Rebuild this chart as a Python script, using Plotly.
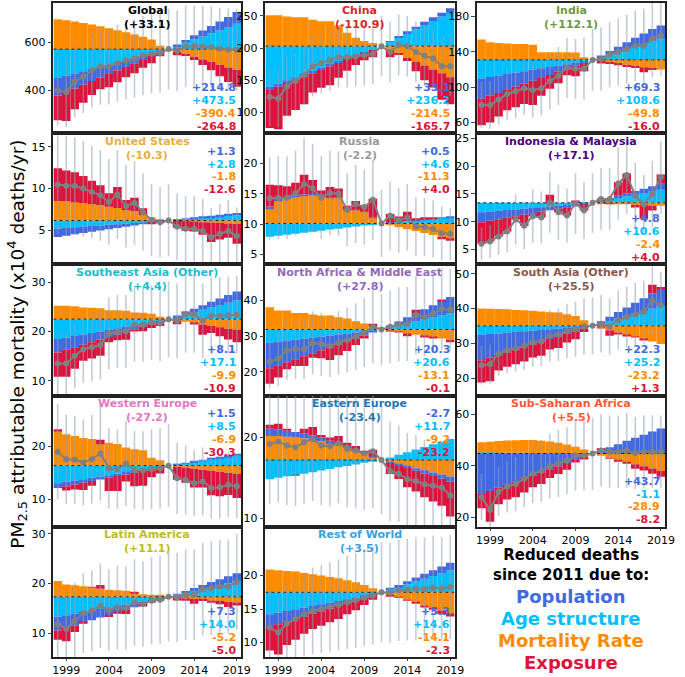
import plotly.graph_objects as go

W, H = 685, 677
YEARS = list(range(1998, 2020))

C_POP, C_AGE, C_MORT, C_EXP = "#4169E1", "#00BFFF", "#FF8C00", "#DC143C"

# ---------------- data (x10^4 deaths/yr) ----------------
GLOBAL_BASE = 572
GLOBAL_POP = [-73,-67,-62,-56,-50,-45,-39,-34,-28,-22,-17,-11,-6,0,6,12,18,24,30,36,42,48]
GLOBAL_AGE = [-120,-111,-102,-92,-83,-74,-65,-55,-46,-37,-28,-18,-9,0,13,26,40,53,66,79,92,106]
GLOBAL_MORT = [124,120,115,109,102,95,87,79,70,61,51,40,14,0,-11,-22,-32,-43,-54,-65,-76,-87]
GLOBAL_EXP = [-103,-121,-86,-75,-58,-48,-55,-49,-43,-41,-33,-30,-15,0,-15,-5,-13,-23,-34,-48,-61,-70]
GLOBAL_TOT = [400,393,437,458,483,500,500,513,525,533,545,553,556,572,565,584,584,583,580,574,570,569]
GLOBAL_ERR = [145,145,150,152,155,158,158,160,162,163,165,166,166,168,168,170,170,170,170,170,170,170]

CHINA_BASE = 203
CHINA_POP = [-5,-5,-4,-4,-3,-3,-3,-2,-2,-1,-1,-1,0,0,1,2,3,4,5,6,6,7]
CHINA_AGE = [-63,-58,-53,-48,-44,-39,-34,-29,-24,-19,-15,-10,-5,0,7,13,20,26,33,39,46,52]
CHINA_MORT = [48,48,46,45,45,41,38.5,38.5,32,21,13,8,5,0,-6,-12,-18,-24,-30,-36,-42,-48]
CHINA_EXP = [-59,-66,-51,-47,-43,-30,-27.5,-29.5,-23,-18,-13,-11,-12,0,-11,-1,-5,-15,-23,-28,-41,-42]
CHINA_TOT = [124,122,141,149,158,172,177,181,186,186,187,189,191,203,194,205,203,194,188,184,172,172]
CHINA_ERR = [45,45,46,46,46,47,47,47,47,47,47,47,47,47,47,47,47,47,47,47,46,46]

INDIA_BASE = 131
INDIA_POP = [-23,-21,-19.5,-18,-16,-14,-12.5,-11,-9,-7,-5.5,-3.5,-2,0,2,4,6,8,10,12,14,15]
INDIA_AGE = [-21,-19.5,-18,-16,-14.5,-13,-11,-9.5,-8,-6.5,-5,-3,-1.5,0,3,6,9,12,15,18,21,24]
INDIA_MORT = [23,20,19,18.5,18,18,17,8.6,8.6,8.6,8.6,8.5,3,0,-1.4,-2.8,-4,-5.5,-7,-8.3,-9.7,-11]
INDIA_EXP = [-30,-30.5,-26.5,-23,-23,-23,-27.5,-20,-15.6,-13,-7,-12,-9.5,0,-2.6,-1.2,-2,-2.5,-2,-5.7,-1.3,0]
INDIA_TOT = [80,80,86,92.5,95.5,99,97,99,107,113,122,121,121,131,132,137,140,143,147,147,155,159]
INDIA_ERR = [26,27,28,29,30,30,31,31,32,33,34,34,35,35,36,37,38,39,40,42,44,46]

US_BASE = 6.2
US_POP = [-1.0,-0.92,-0.85,-0.77,-0.69,-0.62,-0.54,-0.46,-0.38,-0.31,-0.23,-0.15,-0.08,0,0.04,0.07,0.11,0.14,0.18,0.22,0.25,0.29]
US_AGE = [-0.95,-0.88,-0.8,-0.73,-0.66,-0.58,-0.51,-0.44,-0.37,-0.29,-0.22,-0.15,-0.07,0,0.08,0.16,0.23,0.31,0.39,0.47,0.55,0.62]
US_MORT = [2.33,2.3,2.15,2.05,1.95,1.85,1.65,1.5,1.25,1.1,0.65,0.38,0.12,0,-0.05,-0.1,-0.15,-0.2,-0.25,-0.3,-0.35,-0.4]
US_EXP = [3.89,3.65,3.6,3.25,2.8,2.35,1.6,2.5,1.2,1.6,0.8,-0.03,-0.17,0,-0.81,-1.11,-1.17,-1.5,-2.32,-1.96,-1.7,-2.36]
US_TOT = [10.47,10.35,10.3,10.0,9.6,9.2,8.4,9.3,7.9,8.3,7.2,6.25,6.0,6.2,5.46,5.22,5.22,4.95,4.2,4.63,4.95,4.35]
US_ERR = [5.9,5.9,5.8,5.7,5.5,5.4,5.1,5.3,4.9,5.0,4.6,4.3,4.2,4.3,4.0,3.9,3.9,3.8,3.5,3.6,3.7,3.4]

RUSSIA_BASE = 10.1
RUSSIA_POP = [0.3,0.28,0.25,0.23,0.21,0.18,0.16,0.14,0.12,0.09,0.07,0.05,0.02,0,0.01,0.03,0.04,0.06,0.07,0.08,0.1,0.11]
RUSSIA_AGE = [-2.2,-2.03,-1.86,-1.69,-1.52,-1.35,-1.18,-1.01,-0.85,-0.68,-0.51,-0.34,-0.17,0,0.13,0.26,0.38,0.51,0.64,0.77,0.9,1.02]
RUSSIA_MORT = [2.5,3.8,4.0,4.4,4.6,4.7,4.6,4.2,4.2,2.2,2.2,1.9,1.0,0,-0.31,-0.63,-0.94,-1.26,-1.57,-1.88,-2.2,-2.51]
RUSSIA_EXP = [3.55,2.2,1.86,2.06,3.21,2.27,0.67,1.67,1.43,0.64,1.44,1.09,3.05,0,1.42,0.84,1.52,0.19,0.26,0.13,-0.4,-0.32]
RUSSIA_TOT = [14.25,14.35,14.35,15.1,16.6,15.9,14.35,15.1,15.0,12.35,13.3,12.8,14.0,10.1,11.35,10.6,11.1,9.6,9.5,9.2,8.5,8.4]
RUSSIA_ERR = [6.8,6.8,6.8,7.0,7.6,7.3,6.8,7.0,7.0,6.0,6.4,6.2,6.6,5.5,5.6,5.3,5.5,4.9,4.8,4.7,4.4,4.3]

INDO_BASE = 13.4
INDO_POP = [-1.8,-1.66,-1.52,-1.38,-1.25,-1.11,-0.97,-0.83,-0.69,-0.55,-0.42,-0.28,-0.14,0,0.13,0.27,0.4,0.53,0.67,0.8,0.93,1.07]
INDO_AGE = [-1.7,-1.57,-1.44,-1.31,-1.18,-1.05,-0.92,-0.78,-0.65,-0.52,-0.39,-0.26,-0.13,0,0.29,0.59,0.88,1.18,1.47,1.76,2.06,2.35]
INDO_MORT = [0,0,0,0,0,0,0,0,0,0,0,0,0,0,-0.07,-0.13,-0.2,-0.27,-0.33,-0.4,-0.47,-0.53]
INDO_EXP = [-3.86,-3.72,-3.09,-2.46,-0.57,-1.99,-0.51,-1.04,1.44,-0.63,-1.49,0.44,-1.13,0,0.35,-0.03,2.42,3.56,-0.51,-2.46,-0.92,1.71]
INDO_TOT = [6.04,6.45,7.35,8.25,10.4,9.25,11.0,10.75,13.5,11.7,11.1,13.3,12.0,13.4,14.1,14.1,16.9,18.4,14.7,13.1,15.0,18.0]
INDO_ERR = [2.9,3.0,3.4,3.8,4.5,4.2,4.8,4.7,5.5,5.0,4.9,5.5,5.1,5.4,5.6,5.6,6.5,7.0,5.9,5.4,6.0,6.5]

SEA_BASE = 22.5
SEA_POP = [-2.7,-2.49,-2.28,-2.07,-1.87,-1.66,-1.45,-1.25,-1.04,-0.83,-0.62,-0.42,-0.21,0,0.23,0.45,0.68,0.9,1.13,1.35,1.58,1.8]
SEA_AGE = [-4.05,-3.74,-3.43,-3.12,-2.8,-2.49,-2.18,-1.87,-1.56,-1.25,-0.93,-0.62,-0.31,0,0.48,0.95,1.43,1.9,2.38,2.85,3.33,3.8]
SEA_MORT = [2.7,2.7,2.6,2.35,2.3,2.2,1.8,1.8,1.7,1.35,1.3,1.1,0.5,0,-0.28,-0.55,-0.83,-1.1,-1.38,-1.65,-1.93,-2.2]
SEA_EXP = [-4.95,-5.47,-4.34,-3.26,-3.33,-3.3,-1.07,-1.18,-1.6,-0.42,-0.9,-0.76,-0.88,0,-0.78,0.15,-0.28,-2.05,-1.43,-1.85,-2.18,-2.5]
SEA_TOT = [13.5,13.5,15.05,16.4,16.8,17.25,19.6,20.0,20.0,21.35,21.35,21.8,21.6,22.5,22.15,23.5,23.5,22.15,23.2,23.2,23.3,23.4]
SEA_ERR = [6.2,6.2,6.5,6.8,6.9,7.0,7.3,7.4,7.4,7.5,7.5,7.6,7.6,7.7,7.6,7.8,7.8,7.6,7.8,7.8,7.8,7.9]

NAME_BASE = 31.86
NAME_POP = [-7.1,-6.55,-6.0,-5.46,-4.92,-4.37,-3.82,-3.28,-2.73,-2.18,-1.64,-1.1,-0.55,0,0.56,1.13,1.69,2.26,2.82,3.38,3.95,4.51]
NAME_AGE = [-3.75,-3.46,-3.17,-2.88,-2.6,-2.31,-2.02,-1.73,-1.44,-1.15,-0.87,-0.58,-0.29,0,0.57,1.14,1.72,2.29,2.86,3.43,4.0,4.58]
NAME_MORT = [6.2,5.3,5.3,4.65,4.65,4.2,3.9,3.9,3.45,3.1,2.3,1.7,1.1,0,-0.36,-0.73,-1.09,-1.46,-1.82,-2.18,-2.55,-2.91]
NAME_EXP = [-4.37,-3.45,-1.99,-1.87,-2.69,-1.28,-2.22,-3.55,-3.04,-2.73,-1.85,-0.88,0.48,0,-0.03,-0.1,-0.78,0.95,-0.42,-0.19,0.34,-0.64]
NAME_TOT = [22.84,23.7,26.0,26.3,26.3,28.1,27.7,27.2,28.1,28.9,29.8,31.0,32.6,31.86,32.6,33.3,33.4,35.9,35.3,36.3,37.6,37.4]
NAME_ERR = [7.5,7.7,8.3,8.4,8.4,8.9,8.8,8.7,8.9,9.1,9.4,9.7,10.2,10.0,10.2,10.4,10.4,11.0,10.9,11.1,11.5,11.4]

SA_BASE = 35.06
SA_POP = [-7.25,-6.69,-6.13,-5.58,-5.02,-4.46,-3.9,-3.35,-2.79,-2.23,-1.67,-1.12,-0.56,0,0.62,1.24,1.86,2.48,3.1,3.72,4.34,4.96]
SA_AGE = [-2.56,-2.36,-2.17,-1.97,-1.77,-1.57,-1.38,-1.18,-0.98,-0.79,-0.59,-0.39,-0.2,0,0.7,1.4,2.1,2.8,3.5,4.2,4.9,5.6]
SA_MORT = [4.94,4.9,4.85,4.75,4.55,4.45,4.3,4.1,3.9,3.8,3.3,2.85,1.6,0,-0.64,-1.29,-1.93,-2.58,-3.22,-3.87,-4.51,-5.16]
SA_EXP = [-6.39,-6.81,-4.51,-4.16,-4.22,-4.18,-3.78,-4.03,-2.99,-3.34,-2.5,-2.3,-1.0,0,-0.04,-1.51,-0.39,-0.16,-0.04,-0.11,2.51,0.54]
SA_TOT = [23.8,24.1,27.1,28.1,28.6,29.3,30.3,30.6,32.2,32.5,33.6,34.1,34.9,35.06,35.7,34.9,36.7,37.6,38.4,39.0,42.3,41.0]
SA_ERR = [5.5,5.6,6.3,6.5,6.6,6.8,7.0,7.1,7.4,7.5,7.8,7.9,8.1,8.1,8.3,8.1,8.5,8.7,8.9,9.0,9.8,9.5]

WE_BASE = 16.3
WE_POP = [-0.9,-0.83,-0.76,-0.69,-0.62,-0.55,-0.48,-0.42,-0.35,-0.28,-0.21,-0.14,-0.07,0,0.04,0.08,0.13,0.17,0.21,0.25,0.29,0.33]
WE_AGE = [-3.3,-3.05,-2.8,-2.55,-2.3,-2.05,-1.8,-1.55,-1.3,-1.05,-0.8,-0.55,-0.25,0,0.24,0.47,0.71,0.94,1.18,1.42,1.65,1.89]
WE_MORT = [6.4,5.9,5.6,5.2,5.0,4.0,4.3,4.1,3.4,3.1,2.9,1.5,1.0,0,-0.19,-0.38,-0.58,-0.77,-0.96,-1.15,-1.34,-1.53]
WE_EXP = [0.44,-0.82,-0.94,-1.36,-0.88,0.9,-2.52,-2.83,-1.35,-2.57,-2.79,-1.51,-1.18,0,-2.49,-2.87,-3.56,-3.34,-4.63,-4.62,-4.2,-4.59]
WE_TOT = [18.94,17.5,17.4,16.9,17.5,18.6,15.8,15.6,16.7,15.5,15.4,15.6,15.8,16.3,13.9,13.6,13.0,13.3,12.1,12.2,12.7,12.4]
WE_ERR = [9.0,8.4,8.3,8.1,8.4,8.9,7.6,7.5,8.0,7.4,7.4,7.5,7.6,7.8,6.7,6.5,6.2,6.4,5.8,5.9,6.1,6.0]

EE_BASE = 17.2
EE_POP = [0.9,0.83,0.76,0.69,0.62,0.55,0.48,0.41,0.35,0.28,0.21,0.14,0.07,0,-0.08,-0.15,-0.23,-0.3,-0.38,-0.45,-0.53,-0.6]
EE_AGE = [-2.4,-2.2,-2.0,-1.85,-1.7,-1.5,-1.3,-1.1,-0.9,-0.75,-0.55,-0.35,-0.18,0,0.33,0.65,0.98,1.3,1.63,1.95,2.28,2.6]
EE_MORT = [3.0,3.0,2.9,2.8,2.7,2.5,2.3,2.0,1.8,1.5,1.1,0.8,0.4,0,-0.26,-0.51,-0.77,-1.02,-1.28,-1.54,-1.79,-2.05]
EE_EXP = [0.5,0.67,0.14,-0.04,0.58,1.05,0.32,0.39,0.85,0.37,0.44,0.21,0.81,0,-1.39,-1.69,-2.38,-2.58,-2.97,-3.16,-3.36,-4.35]
EE_TOT = [19.2,19.5,19.0,18.8,19.4,19.8,19.0,18.9,19.3,18.6,18.4,18.0,18.3,17.2,15.8,15.5,14.8,14.6,14.2,14.0,13.8,12.8]
EE_ERR = [7.5,7.6,7.4,7.3,7.6,7.7,7.4,7.4,7.5,7.3,7.2,7.0,7.1,6.7,6.2,6.0,5.8,5.7,5.5,5.5,5.4,5.0]

SSA_BASE = 44.8
SSA_POP = [-15.7,-14.5,-13.3,-12.1,-10.9,-9.7,-8.5,-7.3,-6.1,-4.9,-3.7,-2.5,-1.2,0,1.2,2.4,3.6,4.9,6.1,7.3,8.5,9.7]
SSA_AGE = [0.4,0.37,0.34,0.31,0.28,0.25,0.22,0.18,0.15,0.12,0.09,0.06,0.03,0,-0.03,-0.06,-0.09,-0.12,-0.15,-0.18,-0.21,-0.24]
SSA_MORT = [4.0,4.2,4.5,4.7,4.9,5.0,5.0,4.8,4.5,4.0,3.4,2.6,1.5,0,-0.8,-1.6,-2.4,-3.2,-4.0,-4.8,-5.6,-6.4]
SSA_EXP = [-5.5,-11.87,-6.34,-5.71,-6.08,-5.35,-4.52,-4.48,-3.35,-3.02,-2.59,-0.96,-1.13,0,0.83,-0.04,-0.41,-0.38,-1.75,-1.62,-1.99,-2.36]
SSA_TOT = [28,23,30,32,33,35,37,38,40,41,42,44,44,44.8,46,45.5,45.5,46,45,45.5,45.5,45.5]
SSA_ERR = [9,8,9.5,10,10.5,11,11.5,12,12.5,13,13,13.5,13.5,14,14,14,14,14.5,14,14,14,14]

LA_BASE = 17.33
LA_POP = [-2.8,-2.58,-2.37,-2.15,-1.94,-1.72,-1.51,-1.29,-1.08,-0.86,-0.65,-0.43,-0.22,0,0.2,0.41,0.61,0.81,1.01,1.22,1.42,1.62]
LA_AGE = [-4.0,-3.69,-3.38,-3.08,-2.77,-2.46,-2.15,-1.85,-1.54,-1.23,-0.92,-0.62,-0.31,0,0.39,0.78,1.17,1.56,1.95,2.33,2.72,3.11]
LA_MORT = [3.2,2.5,2.3,2.1,1.8,1.6,1.4,1.3,1.2,0.7,0.5,0.4,0.2,0,-0.14,-0.29,-0.43,-0.58,-0.72,-0.86,-1.01,-1.15]
LA_EXP = [-1.86,-2.69,-1.35,-0.2,0.11,0.78,-0.4,-0.29,-0.84,0.26,-0.39,-0.15,-0.27,0,-0.58,-0.5,-0.95,-0.25,-0.5,-0.62,-1.06,-0.61]
LA_TOT = [11.87,10.87,12.53,14.0,14.53,15.53,14.67,15.2,15.07,16.2,15.87,16.53,16.73,17.33,17.2,17.73,17.73,18.87,19.07,19.4,19.4,20.3]
LA_ERR = [7.3,6.9,7.6,8.0,8.1,8.5,8.2,8.4,8.4,8.7,8.6,8.8,8.9,9.0,9.0,9.1,9.1,9.3,9.4,9.4,9.4,9.6]

ROW_BASE = 17.5
ROW_POP = [-1.9,-1.75,-1.61,-1.46,-1.32,-1.17,-1.02,-0.88,-0.73,-0.58,-0.44,-0.29,-0.15,0,0.15,0.29,0.44,0.59,0.74,0.88,1.03,1.18]
ROW_AGE = [-3.3,-3.05,-2.8,-2.55,-2.3,-2.05,-1.8,-1.55,-1.3,-1.05,-0.8,-0.55,-0.25,0,0.41,0.81,1.22,1.62,2.03,2.44,2.84,3.25]
ROW_MORT = [3.4,3.3,3.2,3.1,2.9,2.7,2.5,2.3,2.1,1.8,1.5,1.1,0.6,0,-0.39,-0.78,-1.18,-1.57,-1.96,-2.35,-2.74,-3.14]
ROW_EXP = [-3.5,-4.5,-3.49,-3.09,-2.58,-2.28,-2.18,-2.07,-1.97,-1.67,-1.46,-1.06,-0.7,0,-0.27,-0.02,-0.08,-0.14,-0.31,-0.27,-0.53,-0.49]
ROW_TOT = [12.2,11.5,12.8,13.5,14.2,14.7,15.0,15.3,15.6,16.0,16.3,16.7,17.0,17.5,17.4,17.8,17.9,18.0,18.0,18.2,18.1,18.3]
ROW_ERR = [5.5,5.3,5.8,6.0,6.3,6.5,6.6,6.7,6.8,7.0,7.1,7.2,7.3,7.5,7.5,7.6,7.6,7.7,7.7,7.8,7.7,7.8]

# summary numbers: net change, then population, age structure, mortality rate, exposure
GLOBAL_SUM = [33.1, 214.8, 473.5, -390.4, -264.8]
CHINA_SUM = [-110.9, 33.1, 236.2, -214.5, -165.7]
INDIA_SUM = [112.1, 69.3, 108.6, -49.8, -16.0]
US_SUM = [-10.3, 1.3, 2.8, -1.8, -12.6]
RUSSIA_SUM = [-2.2, 0.5, 4.6, -11.3, 4.0]
INDO_SUM = [17.1, 4.8, 10.6, -2.4, 4.0]
SEA_SUM = [4.4, 8.1, 17.1, -9.9, -10.9]
NAME_SUM = [27.8, 20.3, 20.6, -13.1, -0.1]
SA_SUM = [25.5, 22.3, 25.2, -23.2, 1.3]
WE_SUM = [-27.2, 1.5, 8.5, -6.9, -30.3]
EE_SUM = [-23.4, -2.7, 11.7, -9.2, -23.2]
SSA_SUM = [5.5, 43.7, -1.1, -28.9, -8.2]
LA_SUM = [11.1, 7.3, 14.0, -5.2, -5.0]
ROW_SUM = [3.5, 5.3, 14.6, -14.1, -2.3]

# ---------------- panel table ----------------
PANELS = [
    ("Global", "black", GLOBAL_BASE, GLOBAL_POP, GLOBAL_AGE, GLOBAL_MORT, GLOBAL_EXP, GLOBAL_TOT, GLOBAL_ERR, GLOBAL_SUM, [222, 764], [400, 600], "bottom", 0, 0, False),
    ("China", "#d62728", CHINA_BASE, CHINA_POP, CHINA_AGE, CHINA_MORT, CHINA_EXP, CHINA_TOT, CHINA_ERR, CHINA_SUM, [68, 270], [100, 150, 200, 250], "bottom", 0, 1, False),
    ("India", "#6b9a4b", INDIA_BASE, INDIA_POP, INDIA_AGE, INDIA_MORT, INDIA_EXP, INDIA_TOT, INDIA_ERR, INDIA_SUM, [48, 195.4], [60, 100, 140, 180], "bottom", 0, 2, False),
    ("United States", "#e6b040", US_BASE, US_POP, US_AGE, US_MORT, US_EXP, US_TOT, US_ERR, US_SUM, [0.97, 16.6], [5, 10, 15], "top", 1, 0, False),
    ("Russia", "#999999", RUSSIA_BASE, RUSSIA_POP, RUSSIA_AGE, RUSSIA_MORT, RUSSIA_EXP, RUSSIA_TOT, RUSSIA_ERR, RUSSIA_SUM, [3.36, 24.95], [5, 10, 15, 20], "top", 1, 1, False),
    ("Indonesia & Malaysia", "#4b0082", INDO_BASE, INDO_POP, INDO_AGE, INDO_MORT, INDO_EXP, INDO_TOT, INDO_ERR, INDO_SUM, [2.3, 25.95], [5, 10, 15, 20, 25], "bottom", 1, 2, False),
    ("Southeast Asia (Other)", "#17becf", SEA_BASE, SEA_POP, SEA_AGE, SEA_MORT, SEA_EXP, SEA_TOT, SEA_ERR, SEA_SUM, [6.97, 33.6], [10, 20, 30], "bottom", 2, 0, False),
    ("North Africa & Middle East", "#9467bd", NAME_BASE, NAME_POP, NAME_AGE, NAME_MORT, NAME_EXP, NAME_TOT, NAME_ERR, NAME_SUM, [13.3, 50.1], [20, 30, 40], "bottom", 2, 1, False),
    ("South Asia (Other)", "#8c564b", SA_BASE, SA_POP, SA_AGE, SA_MORT, SA_EXP, SA_TOT, SA_ERR, SA_SUM, [15.08, 52.65], [20, 30, 40, 50], "bottom", 2, 2, False),
    ("Western Europe", "#e377c2", WE_BASE, WE_POP, WE_AGE, WE_MORT, WE_EXP, WE_TOT, WE_ERR, WE_SUM, [4.75, 29.5], [10, 20], "top", 3, 0, False),
    ("Eastern Europe", "#1f77b4", EE_BASE, EE_POP, EE_AGE, EE_MORT, EE_EXP, EE_TOT, EE_ERR, EE_SUM, [8.9, 25.2], [10, 20], "top", 3, 1, False),
    ("Sub-Saharan Africa", "#ff5733", SSA_BASE, SSA_POP, SSA_AGE, SSA_MORT, SSA_EXP, SSA_TOT, SSA_ERR, SSA_SUM, [16.4, 67.2], [20, 40, 60], "bottom", 3, 2, True),
    ("Latin America", "#bcbd22", LA_BASE, LA_POP, LA_AGE, LA_MORT, LA_EXP, LA_TOT, LA_ERR, LA_SUM, [5.2, 31.4], [10, 20, 30], "bottom", 4, 0, True),
    ("Rest of World", "#3a9ee4", ROW_BASE, ROW_POP, ROW_AGE, ROW_MORT, ROW_EXP, ROW_TOT, ROW_ERR, ROW_SUM, [7.8, 27.3], [10, 15, 20], "bottom", 4, 1, True),
]

COL_X = [(53.3, 244.0), (268.7, 461.0), (484.0, 675.0)]
ROW_Y = [(2, 133), (133, 265), (265, 397), (397, 529), (529, 660)]

FONT = "DejaVu Sans"
fig = go.Figure()
annotations = []
layout_axes = {}

for i, (name, tcol, base, pop, age, mort, exp, tot, err, summ, yr, ticks, side, r, c, xlab) in enumerate(PANELS):
    k = i + 1
    xa, ya = f"x{k}", f"y{k}"
    x0, x1 = COL_X[c]
    y0, y1 = ROW_Y[r]
    pos = [base] * len(YEARS)
    neg = [base] * len(YEARS)
    for vals, col in ((age, C_AGE), (mort, C_MORT), (pop, C_POP), (exp, C_EXP)):
        bases = []
        for j, v in enumerate(vals):
            if v >= 0:
                bases.append(pos[j]); pos[j] += v
            else:
                bases.append(neg[j]); neg[j] += v
        fig.add_trace(go.Bar(x=YEARS, y=vals, base=bases, width=1.0, marker=dict(color=col, line=dict(width=0)),
                             xaxis=xa, yaxis=ya, showlegend=False, hoverinfo="skip"))
    fig.add_trace(go.Scatter(x=[1997.5, 2019.5], y=[base, base], mode="lines",
                             line=dict(color="#222222", width=1, dash="dot"), xaxis=xa, yaxis=ya, showlegend=False))
    ex, ey = [], []
    for yv, t, e in zip(YEARS, tot, err):
        ex += [yv, yv, None]; ey += [t - e, t + e, None]
    fig.add_trace(go.Scatter(x=ex, y=ey, mode="lines", line=dict(color="rgba(150,160,178,0.55)", width=1.6),
                             xaxis=xa, yaxis=ya, showlegend=False))
    fig.add_trace(go.Scatter(x=YEARS, y=tot, mode="lines+markers", line=dict(color="#808080", width=2),
                             marker=dict(color="#808080", size=6), xaxis=xa, yaxis=ya, showlegend=False))

    layout_axes["xaxis" if k == 1 else f"xaxis{k}"] = dict(
        domain=[x0 / W, x1 / W], anchor=ya, range=[1997.5, 2019.5], showgrid=False, zeroline=False,
        showline=True, mirror=True, linecolor="#222222", linewidth=1.5,
        tickvals=[1999, 2004, 2009, 2014, 2019], ticks="outside" if xlab else "", ticklen=2,
        showticklabels=xlab, tickfont=dict(family=FONT, size=11, color="black"))
    layout_axes["yaxis" if k == 1 else f"yaxis{k}"] = dict(
        domain=[1 - y1 / H, 1 - y0 / H], anchor=xa, range=yr, showgrid=False, zeroline=False,
        showline=True, mirror=True, linecolor="#222222", linewidth=1.5,
        tickvals=ticks, ticks="outside", ticklen=4, tickfont=dict(family=FONT, size=11, color="black"))

    cx = (x0 + x1) / 2
    annotations.append(dict(x=cx / W, y=1 - (y0 + 8) / H, xref="paper", yref="paper", text=f"<b>{name}</b>",
                            showarrow=False, font=dict(family=FONT, size=11, color=tcol), xanchor="center", yanchor="middle"))
    annotations.append(dict(x=cx / W, y=1 - (y0 + 22) / H, xref="paper", yref="paper", text=f"<b>({summ[0]:+.1f})</b>",
                            showarrow=False, font=dict(family=FONT, size=11, color=tcol), xanchor="center", yanchor="middle"))
    offs = [y0 + 18, y0 + 31, y0 + 44, y0 + 57] if side == "top" else [y1 - 46, y1 - 33, y1 - 20, y1 - 7]
    for v, col, oy in zip(summ[1:], (C_POP, C_AGE, C_MORT, C_EXP), offs):
        annotations.append(dict(x=(x1 - 3) / W, y=1 - oy / H, xref="paper", yref="paper", text=f"<b>{v:+.1f}</b>",
                                showarrow=False, font=dict(family=FONT, size=11, color=col), xanchor="right", yanchor="middle"))

annotations.append(dict(x=17 / W, y=1 - 345 / H, xref="paper", yref="paper", textangle=-90,
                        text="PM<sub>2.5</sub> attributable mortality (x10<sup>4</sup> deaths/yr)",
                        showarrow=False, font=dict(family=FONT, size=18.5, color="black"), xanchor="center", yanchor="middle"))

annotations.append(dict(x=579 / W, y=1 - 567 / H, xref="paper", yref="paper", borderpad=0,
                        text="<b>Reduced deaths<br>since 2011 due to:</b>", showarrow=False,
                        font=dict(family=FONT, size=15, color="black"), xanchor="center", yanchor="middle"))
LEGEND_LINES = [("Population", C_POP, 599), ("Age structure", C_AGE, 621),
                ("Mortality Rate", C_MORT, 643), ("Exposure", C_EXP, 665)]
for txt, col, py in LEGEND_LINES:
    annotations.append(dict(x=579 / W, y=1 - py / H, xref="paper", yref="paper", text=f"<b>{txt}</b>", borderpad=0,
                            showarrow=False, font=dict(family=FONT, size=18, color=col), xanchor="center", yanchor="middle"))

fig.update_layout(width=W, height=H, margin=dict(l=0, r=0, t=0, b=0), barmode="overlay",
                  paper_bgcolor="white", plot_bgcolor="white", showlegend=False,
                  annotations=annotations, **layout_axes)
fig.write_html("out.html", config={"displayModeBar": False},
               post_script="document.body.style.margin='0px';")
